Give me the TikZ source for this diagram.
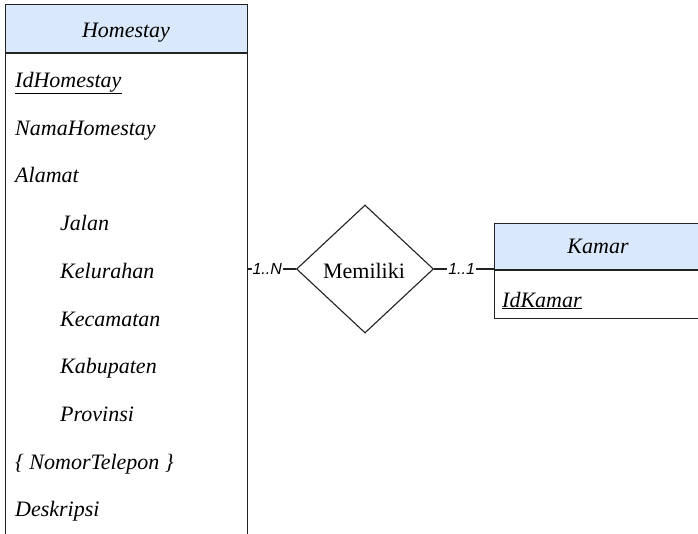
\documentclass[tikz,border=0pt]{standalone}
\usepackage{fontspec}
\setmainfont{Liberation Serif}
\newfontfamily\lblfont{Liberation Sans}
\usetikzlibrary{shapes.geometric}
\definecolor{hdr}{HTML}{DAE8FC}
\definecolor{edge}{HTML}{222222}
\tikzset{
  hdrbox/.style={draw=edge, line width=1.1pt, fill=hdr, anchor=north west, inner sep=0pt},
  hdrtext/.style={anchor=base, inner sep=0pt, font=\fontsize{22}{26}\selectfont\itshape},
  bodybox/.style={draw=edge, line width=1.1pt, anchor=north west, inner sep=0pt},
  attr/.style={anchor=base west, inner sep=0pt, font=\fontsize{22}{26}\selectfont\itshape},
  rel/.style={draw=edge, line width=1.1pt, diamond, inner sep=0pt},
  reltext/.style={anchor=base, inner sep=0pt, font=\fontsize{22}{26}\selectfont},
  conn/.style={draw=edge, line width=1.1pt},
  card/.style={fill=white, inner sep=1pt, font=\lblfont\fontsize{16}{18}\selectfont\itshape}
}
\begin{document}
\begin{tikzpicture}[x=1pt, y=-1pt]
\path[use as bounding box, clip] (0,0) rectangle (698,533);
\fill[white] (0,0) rectangle (698,533);
% Homestay
\node[hdrbox, minimum width=242pt, minimum height=48pt] (hs) at (5,4) {};
\node[hdrtext] (hst) at (126,37) {Homestay};
\node[bodybox, minimum width=242pt, minimum height=520pt] (hsb) at (hs.south west) {};
\node[attr] (a1) at (15,87.5) {\underline{IdHomestay}};
\node[attr] (a2) at (15,135.2) {NamaHomestay};
\node[attr] (a3) at (15,182.9) {Alamat};
\node[attr] (a4) at (60,230.6) {Jalan};
\node[attr] (a5) at (60,278.3) {Kelurahan};
\node[attr] (a6) at (60,326) {Kecamatan};
\node[attr] (a7) at (60,373.7) {Kabupaten};
\node[attr] (a8) at (60,421.4) {Provinsi};
\node[attr] (a9) at (15,469.1) {\{ NomorTelepon \}};
\node[attr] (a10) at (15,516.8) {Deskripsi};
% relationship
\node[rel, minimum width=137pt, minimum height=128pt] (rel) at (365,269) {};
\node[reltext] (relt) at (364,278) {Memiliki};
% Kamar
\node[hdrbox, minimum width=208pt, minimum height=46pt] (km) at (494,223) {};
\node[hdrtext] (kmt) at (598,253) {Kamar};
\node[bodybox, minimum width=208pt, minimum height=48pt] (kmb) at (km.south west) {};
\node[attr] (k1) at (502,307) {\underline{IdKamar}};
% connectors
\draw[conn] (hsb.east |- rel.west) -- node[card, pos=0.4] {1..N} (rel.west);
\draw[conn] (rel.east) -- node[card, pos=0.46] {1..1} (kmb.west |- rel.east);
\end{tikzpicture}
\end{document}
